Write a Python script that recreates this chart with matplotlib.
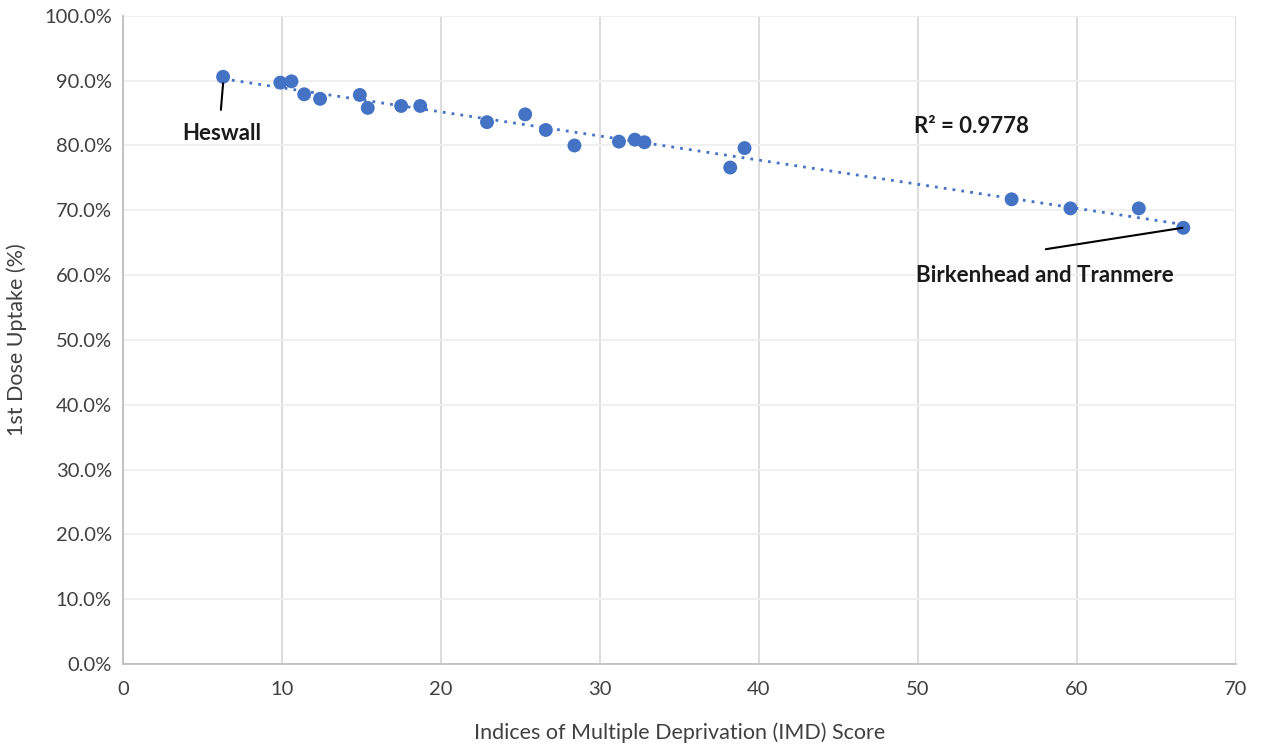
import numpy as np
import matplotlib.pyplot as plt
from matplotlib.ticker import PercentFormatter

plt.rcParams["font.family"] = ["Lato", "DejaVu Sans"]

# IMD score and first dose uptake per ward
imd_score = [6.3, 9.9, 10.6, 11.4, 12.4, 14.9, 15.4, 17.5, 18.7, 22.9, 25.3,
             26.6, 28.4, 31.2, 32.2, 32.8, 38.2, 39.1, 55.9, 59.6, 63.9, 66.7]
uptake = [90.6, 89.7, 89.9, 87.9, 87.2, 87.8, 85.8, 86.1, 86.1, 83.6, 84.8,
          82.4, 80.0, 80.6, 80.9, 80.5, 76.6, 79.6, 71.7, 70.3, 70.3, 67.3]

x = np.array(imd_score)
y = np.array(uptake)

fig = plt.figure(figsize=(12.61, 7.45), dpi=100)
ax = fig.add_axes([0.0975, 0.1087, 0.8825, 0.87])

blue = "#4472C4"
ax.scatter(x, y, s=100, color=blue, zorder=3, edgecolors="none")

# linear trendline across the data range
slope, intercept = np.polyfit(x, y, 1)
xt = np.array([x.min(), x.max()])
ax.plot(xt, slope * xt + intercept, color=blue, linestyle=(0, (1, 2.2)),
        linewidth=2, zorder=2)

ax.set_xlim(0, 70)
ax.set_ylim(0, 100)
ax.set_xticks(range(0, 71, 10))
ax.set_yticks(range(0, 101, 10))
ax.yaxis.set_major_formatter(PercentFormatter(decimals=1))

ax.grid(axis="x", color="#d9d9d9", linewidth=1.3)
ax.grid(axis="y", color="#efefef", linewidth=1.3)
ax.set_axisbelow(True)
for side in ["top", "right"]:
    ax.spines[side].set_visible(False)
for side in ["left", "bottom"]:
    ax.spines[side].set_color("#bfbfbf")
    ax.spines[side].set_linewidth(1.3)
ax.tick_params(length=0, labelsize=14.5, colors="#404040", pad=8)
ax.tick_params(axis="x", pad=12)

ax.set_xlabel("Indices of Multiple Deprivation (IMD) Score", fontsize=15.5,
              color="#404040", labelpad=18)
ax.set_ylabel("1st Dose Uptake (%)", fontsize=15.5, color="#404040", labelpad=12)

# callout lines and labels
line_kw = dict(arrowstyle="-", color="black", lw=1.5, shrinkA=0, shrinkB=0)
ax.annotate("", xy=(x[0], y[0] - 1.0), xytext=(6.16, 85.5), arrowprops=line_kw)
ax.text(6.2, 81.9, "Heswall", fontsize=16, fontweight="bold",
        ha="center", va="center", color="#1a1a1a")
ax.annotate("", xy=(x[-1] - 0.05, y[-1]), xytext=(58.05, 64.0),
            arrowprops=line_kw)
ax.text(58.0, 60.0, "Birkenhead and Tranmere", fontsize=16, fontweight="bold",
        ha="center", va="center", color="#1a1a1a")
ax.text(53.4, 83.0, "R² = 0.9778", fontsize=16, fontweight="bold",
        ha="center", va="center", color="#1a1a1a")

fig.savefig("out.png", dpi=100)
